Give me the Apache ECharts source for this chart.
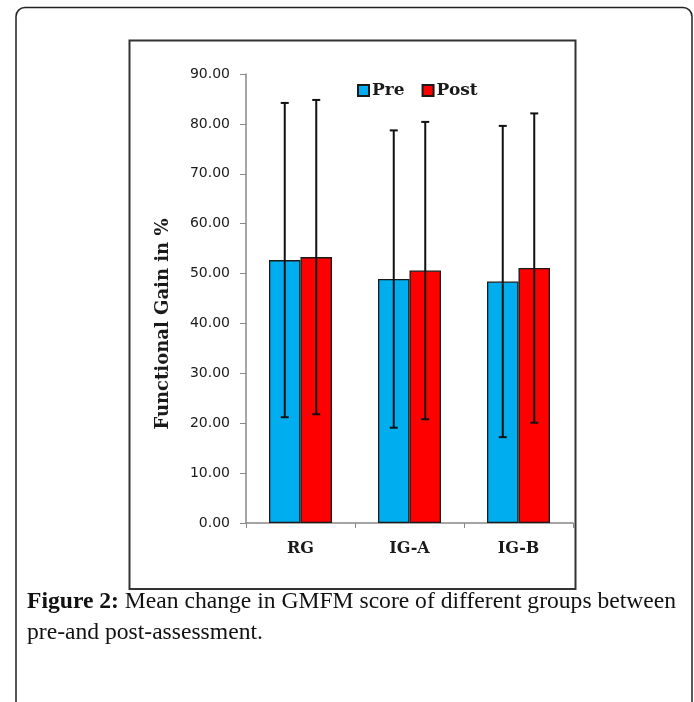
<!DOCTYPE html>
<html>
<head>
<meta charset="utf-8">
<title>GMFM</title>
<script src="https://cdn.jsdelivr.net/npm/echarts@6/dist/echarts.min.js"></script>
<style>
html,body{margin:0;padding:0;background:#fff;}
#main{width:694px;height:702px;}
</style>
</head>
<body>
<div id="main"></div>
<script>
var groups = ['RG', 'IG-A', 'IG-B'];
var preMean = [52.7, 48.9, 48.4];
var postMean = [53.3, 50.6, 51.1];
var preSd = [31.5, 29.8, 31.2];
var postSd = [31.5, 29.8, 31.0];
var yTicks = [0, 10, 20, 30, 40, 50, 60, 70, 80, 90];

var chart = echarts.init(document.getElementById('main'), null, {renderer: 'canvas'});
var serif = 'DejaVu Serif';
var barW = 31.5;

// error bar drawn with a custom series, shifted to sit on its bar
function errorBar(means, sds, shift) {
	var data = [];
	for (var i = 0; i < means.length; i++) {
		data.push([i, means[i] - sds[i], means[i] + sds[i]]);
	}
	return {
		type: 'custom',
		data: data,
		z: 5,
		silent: true,
		renderItem: function(params, api) {
			var lo = api.coord([api.value(0), api.value(1)]);
			var hi = api.coord([api.value(0), api.value(2)]);
			var x = lo[0] + shift;
			var cap = 4;
			var st = {stroke: '#111', lineWidth: 2};
			return {
				type: 'group',
				children: [
					{type: 'line', shape: {x1: x, y1: lo[1], x2: x, y2: hi[1]}, style: st},
					{type: 'line', shape: {x1: x - cap, y1: lo[1], x2: x + cap, y2: lo[1]}, style: st},
					{type: 'line', shape: {x1: x - cap, y1: hi[1], x2: x + cap, y2: hi[1]}, style: st}
				]
			};
		}
	};
}

var option = {
	backgroundColor: '#fff',
	animation: false,
	grid: {left: 246, right: 121, top: 74, bottom: 179},
	legend: {
		left: 352,
		top: 77,
		itemWidth: 11,
		itemHeight: 11,
		itemGap: 17,
		icon: 'rect',
		textStyle: {fontFamily: serif, fontWeight: 'bold', fontSize: 17, color: '#1a1a1a', padding: [0, 0, 0, -2]},
		data: ['Pre', 'Post']
	},
	xAxis: {
		type: 'category',
		data: groups,
		axisLine: {lineStyle: {color: '#888', width: 1.5}},
		axisTick: {show: true, length: 5, lineStyle: {color: '#888'}},
		axisLabel: {fontFamily: serif, fontWeight: 'bold', fontSize: 16, color: '#1a1a1a', margin: 18}
	},
	yAxis: {
		type: 'value',
		min: yTicks[0],
		max: yTicks[yTicks.length - 1],
		interval: 10,
		splitLine: {show: false},
		axisLine: {show: true, lineStyle: {color: '#888', width: 1.5}},
		axisTick: {show: true, length: 6, lineStyle: {color: '#888'}},
		axisLabel: {
			fontFamily: 'DejaVu Sans',
			fontSize: 14,
			color: '#1a1a1a',
			margin: 16,
			formatter: function(v) { return v.toFixed(2); }
		}
	},
	series: [
		{
			name: 'Pre',
			type: 'bar',
			data: preMean,
			barWidth: barW,
			barGap: 0,
			itemStyle: {color: '#00AEEF', borderColor: '#1a1a1a', borderWidth: 1.3}
		},
		{
			name: 'Post',
			type: 'bar',
			data: postMean,
			barWidth: barW,
			itemStyle: {color: '#FF0000', borderColor: '#1a1a1a', borderWidth: 1.3}
		},
		errorBar(preMean, preSd, -barW / 2),
		errorBar(postMean, postSd, barW / 2)
	],
	graphic: [
		{
			type: 'rect',
			shape: {x: 16, y: 7.5, width: 676, height: 740, r: 9},
			style: {fill: 'none', stroke: '#222', lineWidth: 1.5},
			z: 0
		},
		{
			type: 'rect',
			shape: {x: 129.5, y: 40.5, width: 446, height: 548.5},
			style: {fill: 'none', stroke: '#333', lineWidth: 2},
			z: 0
		},
		{
			type: 'text',
			x: 163,
			y: 324,
			rotation: Math.PI / 2,
			style: {
				text: 'Functional Gain in %',
				fontFamily: serif,
				fontWeight: 'bold',
				fontSize: 18,
				fill: '#1a1a1a',
				align: 'center',
				verticalAlign: 'middle'
			}
		},
		{
			type: 'text',
			left: 27,
			top: 586,
			style: {
				text: '{b|Figure 2:} Mean change in GMFM score of different groups between\npre-and post-assessment.',
				fontFamily: 'Liberation Serif',
				fontSize: 23.6,
				lineHeight: 31,
				fill: '#111',
				rich: {
					b: {fontFamily: 'Liberation Serif', fontWeight: 'bold', fontSize: 23.6, fill: '#111'}
				}
			}
		}
	]
};
chart.setOption(option);
</script>
</body>
</html>
